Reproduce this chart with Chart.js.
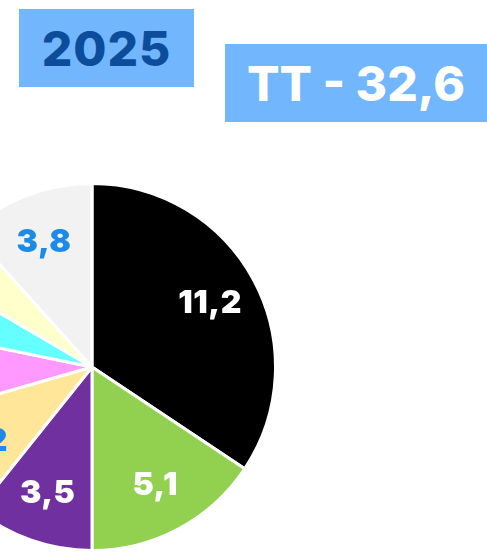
<!DOCTYPE html>
<html>
<head>
<meta charset="utf-8">
<script src="https://cdn.jsdelivr.net/npm/chart.js@4"></script>
<style>
  html, body { margin: 0; padding: 0; background: #fff; overflow: hidden; }
  body { width: 487px; height: 555px; position: relative; font-family: Inter, "DejaVu Sans", sans-serif; }
  .box { position: absolute; background: #72b6fd; font-weight: 800; display: flex; align-items: center; justify-content: center; }
  #year { left: 19px; top: 9px; width: 175px; height: 78px; color: #0b4c9b; font-size: 48px; letter-spacing: 1px; }
  #total { left: 225px; top: 44px; width: 262px; height: 78px; color: #fff; font-size: 48px; }
  #wrap { position: absolute; left: -93px; top: 182px; width: 370px; height: 370px; }
</style>
</head>
<body>
<div class="box" id="year">2025</div>
<div class="box" id="total">TT - 32,6</div>
<div id="wrap"><canvas id="pie"></canvas></div>
<script>
const categories = ['A', 'B', 'C', 'D', 'E', 'F', 'G', 'H'];
const values = [11.2, 5.1, 3.5, 3.2, 2.5, 1.7, 1.6, 3.8];
const colors = ['#000000', '#92d050', '#7030a0', '#ffe699', '#ff99ff', '#66ffff', '#ffffcc', '#f2f2f2'];
const labelColors = ['#ffffff', '#ffffff', '#ffffff', '#1c8be8', '#1c8be8', '#1c8be8', '#1c8be8', '#1c8be8'];

const sliceLabels = {
    id: 'sliceLabels',
    afterDatasetsDraw(chart) {
        const ctx = chart.ctx;
        const meta = chart.getDatasetMeta(0);
        const total = values.reduce((a, b) => a + b, 0);
        ctx.save();
        ctx.font = '900 32px Inter, "DejaVu Sans", sans-serif';
        ctx.letterSpacing = '0.5px';
        ctx.textAlign = 'center';
        ctx.textBaseline = 'middle';
        meta.data.forEach((arc, i) => {
            const mid = (arc.startAngle + arc.endAngle) / 2;
            // thin slices get their label pushed out toward the rim
            const r = arc.outerRadius * (values[i] / total < 0.06 ? 0.95 : 0.73);
            const x = arc.x + Math.cos(mid) * r;
            const y = arc.y + Math.sin(mid) * r;
            ctx.fillStyle = labelColors[i];
            ctx.fillText(values[i].toFixed(1).replace('.', ','), x, y);
        });
        ctx.restore();
    }
};

new Chart(document.getElementById('pie'), {
    type: 'pie',
    data: {
        labels: categories,
        datasets: [{
            data: values,
            backgroundColor: colors,
            borderColor: '#ffffff',
            borderWidth: 3
        }]
    },
    options: {
        responsive: true,
        maintainAspectRatio: false,
        animation: false,
        plugins: {
            legend: { display: false },
            tooltip: { enabled: false }
        }
    },
    plugins: [sliceLabels]
});
</script>
</body>
</html>
